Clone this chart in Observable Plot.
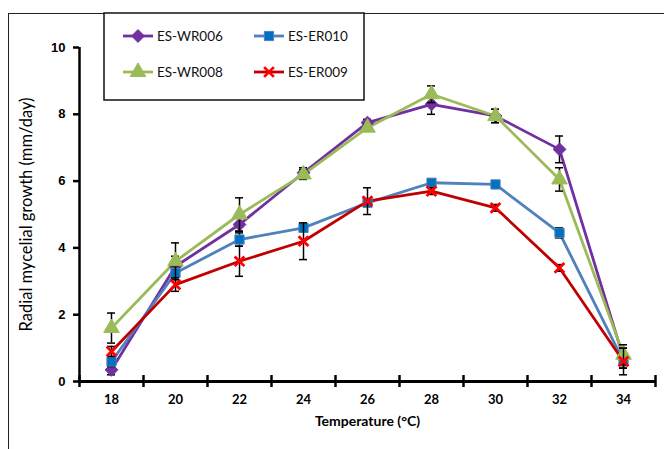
<!DOCTYPE html>
<html>
<head>
<meta charset="utf-8">
<script src="https://cdn.jsdelivr.net/npm/d3@7"></script>
<script src="https://cdn.jsdelivr.net/npm/@observablehq/plot@0.6"></script>
<style>
  html, body { margin: 0; padding: 0; background: #fff; }
  #wrap { position: relative; width: 664px; height: 449px; overflow: hidden; background: #fff; }
  #frame { position: absolute; left: 8px; top: 13px; width: 700px; height: 500px;
           border-left: 1.5px solid #222; border-top: 1.5px solid #222; }
  #chart { position: absolute; left: 0; top: 0; }
  #legend { position: absolute; left: 0; top: 0; }
</style>
</head>
<body>
<div id="wrap">
  <div id="frame"></div>
  <div id="chart"></div>
  <div id="legend"></div>
</div>
<script>
// ---- data ----
const temps = [18, 20, 22, 24, 26, 28, 30, 32, 34];
const seriesNames = ["ES-WR006", "ES-ER010", "ES-WR008", "ES-ER009"];
const wr006 = [0.35, 3.45, 4.7, 6.25, 7.75, 8.3, 7.95, 6.95, 0.7];
const er010 = [0.6, 3.25, 4.25, 4.6, 5.35, 5.95, 5.9, 4.45, 0.6];
const wr008 = [1.6, 3.6, 5.0, 6.2, 7.6, 8.6, 7.95, 6.05, 0.8];
const er009 = [0.9, 2.9, 3.6, 4.2, 5.4, 5.7, 5.2, 3.4, 0.6];
const wr006Err = [0.15, 0.3, 0.2, 0.15, 0.1, 0.3, 0.2, 0.4, 0.3];
const er010Err = [0.15, 0.2, 0.2, 0.1, 0.1, 0.1, 0.1, 0.15, 0.2];
const wr008Err = [0.45, 0.55, 0.5, 0.15, 0.1, 0.25, 0.2, 0.35, 0.3];
const er009Err = [0.15, 0.2, 0.45, 0.55, 0.4, 0.1, 0.1, 0.1, 0.4];
const yTicks = [0, 2, 4, 6, 8, 10];
const xBoundaries = [17, 19, 21, 23, 25, 27, 29, 31, 33, 35];
const lineColors = ["#7030A0", "#4F81BD", "#9BBB59", "#C00000"];
const markColors = ["#7030A0", "#0070C0", "#9BBB59", "#FF0000"];
const symbols = ["diamond2", "square", "triangle", "times"];
const symbolSizes = [5.8, 5.2, 5.8, 4.5];

const values = [wr006, er010, wr008, er009];
const errs = [wr006Err, er010Err, wr008Err, er009Err];
const rows = [];
seriesNames.forEach((s, i) => temps.forEach((t, j) =>
  rows.push({series: s, idx: i, t, v: values[i][j], e: errs[i][j]})));

const marks = [];
// axis lines
marks.push(Plot.ruleX([17], {stroke: "black", strokeWidth: 2.5}));
marks.push(Plot.ruleY([0], {stroke: "black", strokeWidth: 3}));
// x tick marks crossing the axis at category boundaries
marks.push(Plot.ruleX(xBoundaries, {x: d => d, y1: 0, y2: 0, insetTop: -6, insetBottom: -6, stroke: "black", strokeWidth: 2.5}));
// y axis
marks.push(Plot.axisY({ticks: yTicks, tickSize: 6, tickPadding: 8, tickFormat: d => d, label: null,
  fontWeight: "bold", fontSize: 13, fontFamily: "Liberation Sans, Arial, sans-serif", strokeWidth: 2.5}));
// x axis labels
marks.push(Plot.axisX({ticks: temps, tickSize: 0, tickPadding: 13, tickFormat: d => d, label: null,
  fontWeight: "bold", fontSize: 13, fontFamily: "Lato, sans-serif"}));
// axis titles
marks.push(Plot.text(["Temperature (°C)"], {frameAnchor: "bottom", dy: 44, fontWeight: "bold", fontSize: 14, fontFamily: "Lato, sans-serif", fill: "black"}));
marks.push(Plot.text(["Radial mycelial growth (mm/day)"], {frameAnchor: "left", dx: -53, rotate: -90, textAnchor: "middle", fontSize: 16.5, fontFamily: "Lato, sans-serif", fill: "black"}));

seriesNames.forEach((s, i) => {
  const d = rows.filter(r => r.idx === i);
  marks.push(Plot.line(d, {x: "t", y: "v", stroke: lineColors[i], strokeWidth: 2.8}));
});
seriesNames.forEach((s, i) => {
  const d = rows.filter(r => r.idx === i);
  marks.push(Plot.ruleX(d, {x: "t", y1: r => r.v - r.e, y2: r => r.v + r.e, stroke: "black", strokeWidth: 1.5}));
  marks.push(Plot.ruleY(d, {y: r => r.v + r.e, x1: "t", x2: "t", insetLeft: -4, insetRight: -4, stroke: "black", strokeWidth: 1.5}));
  marks.push(Plot.ruleY(d, {y: r => r.v - r.e, x1: "t", x2: "t", insetLeft: -4, insetRight: -4, stroke: "black", strokeWidth: 1.5}));
  if (symbols[i] === "times") {
    marks.push(Plot.dot(d, {x: "t", y: "v", symbol: "times", r: symbolSizes[i], stroke: markColors[i], strokeWidth: 2.8}));
  } else {
    marks.push(Plot.dot(d, {x: "t", y: "v", symbol: symbols[i], r: symbolSizes[i], fill: markColors[i], stroke: lineColors[i], strokeWidth: 1}));
  }
});

const chart = Plot.plot({
  width: 664, height: 449,
  marginTop: 47, marginBottom: 68, marginLeft: 79, marginRight: 9,
  x: {type: "linear", domain: [17, 35]},
  y: {domain: [0, 10]},
  style: {background: "transparent", overflow: "visible"},
  marks
});
document.getElementById("chart").appendChild(chart);

// ---- legend ----
const lsvg = d3.create("svg").attr("width", 664).attr("height", 120).style("overflow", "visible");
lsvg.append("rect").attr("x", 104).attr("y", 13).attr("width", 260).attr("height", 87)
  .attr("fill", "white").attr("stroke", "#111").attr("stroke-width", 1.5);
const legendPos = [[123, 36], [254, 36], [123, 72], [254, 72]];
const symMap = {diamond2: d3.symbolDiamond2, square: d3.symbolSquare, triangle: d3.symbolTriangle, times: d3.symbolTimes};
seriesNames.forEach((s, i) => {
  const [x, y] = legendPos[i];
  const g = lsvg.append("g");
  g.append("line").attr("x1", x).attr("x2", x + 30).attr("y1", y).attr("y2", y)
    .attr("stroke", lineColors[i]).attr("stroke-width", 2.8);
  const r = symbolSizes[i];
  const path = d3.symbol(symMap[symbols[i]], Math.PI * r * r)();
  const p = g.append("path").attr("d", path).attr("transform", `translate(${x + 15},${y})`);
  if (symbols[i] === "times") p.attr("fill", "none").attr("stroke", markColors[i]).attr("stroke-width", 2.8);
  else p.attr("fill", markColors[i]).attr("stroke", lineColors[i]).attr("stroke-width", 1);
  g.append("text").attr("x", x + 34).attr("y", y).attr("dy", "0.35em")
    .attr("font-family", "Lato, sans-serif").attr("font-size", 13.5).attr("fill", "#111").text(s);
});
document.getElementById("legend").appendChild(lsvg.node());
</script>
</body>
</html>
